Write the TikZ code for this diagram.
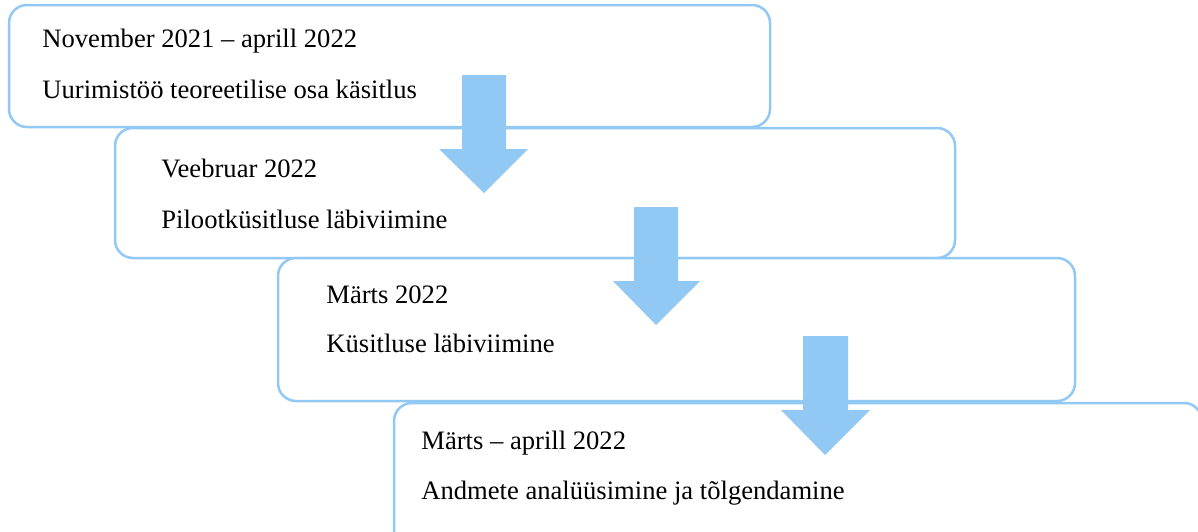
\documentclass[tikz,border=0pt]{standalone}
\usepackage{fontspec}
\setmainfont{Liberation Serif}
\definecolor{lblue}{HTML}{92C8F4}
\begin{document}
\begin{tikzpicture}[x=0.5pt,y=-0.5pt,
  stagebox/.style={draw=lblue, line width=1.25pt, fill=white, rounded corners=9pt},
  lbl/.style={anchor=base west, inner sep=0pt, font=\fontsize{13.3}{16}\selectfont},
  blockarrow/.style={fill=lblue, draw=none}]
\useasboundingbox (0,0) rectangle (1198,531);
\clip (0,0) rectangle (1198,531);
% boxes
\draw[stagebox] (9,5) rectangle (770,127);
\node[lbl] (t1a) at (42,47) {November 2021 – aprill 2022};
\node[lbl] (t1b) at (42,98) {Uurimistöö teoreetilise osa käsitlus};
\draw[stagebox] (115,128) rectangle (955,258);
\node[lbl] (t2a) at (161,177) {Veebruar 2022};
\node[lbl] (t2b) at (161,228) {Pilootküsitluse läbiviimine};
\draw[stagebox] (278,258) rectangle (1075,401);
\node[lbl] (t3a) at (326,303) {Märts 2022};
\node[lbl] (t3b) at (326,352) {Küsitluse läbiviimine};
\draw[stagebox] (394,403) rectangle (1202,548);
\node[lbl] (t4a) at (421,449) {Märts – aprill 2022};
\node[lbl] (t4b) at (421,499) {Andmete analüüsimine ja tõlgendamine};
% arrows
\fill[blockarrow] (462,75) -- (506,75) -- (506,149) -- (528,149) -- (484,193) -- (439,149) -- (462,149) -- cycle;
\fill[blockarrow] (634,207) -- (678,207) -- (678,281) -- (700,281) -- (656,325) -- (613,281) -- (634,281) -- cycle;
\fill[blockarrow] (803,336) -- (848,336) -- (848,410) -- (870,410) -- (825,455) -- (781,410) -- (803,410) -- cycle;
\end{tikzpicture}
\end{document}
